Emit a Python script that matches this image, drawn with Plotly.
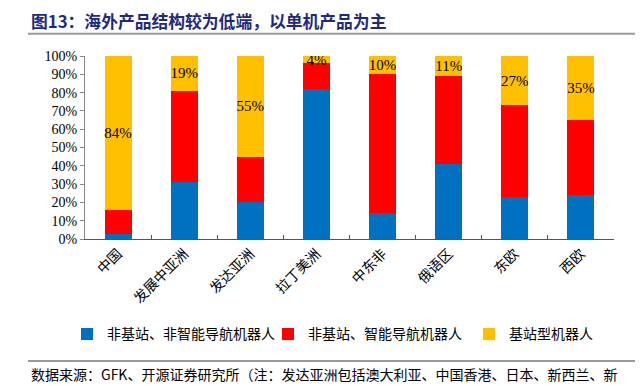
import plotly.graph_objects as go

categories = ["中国", "发展中亚洲", "发达亚洲", "拉丁美洲", "中东非", "俄语区", "东欧", "西欧"]
non_station_non_smart = [3, 31, 20, 82, 14, 41, 23, 24]
non_station_smart = [13, 50, 25, 14, 76, 48, 50, 41]
station_type = [84, 19, 55, 4, 10, 11, 27, 35]

series_names = ["非基站、非智能导航机器人", "非基站、智能导航机器人", "基站型机器人"]
colors = ["#0070C0", "#FF0000", "#FFC000"]
y_ticks = [0, 10, 20, 30, 40, 50, 60, 70, 80, 90, 100]
y_tick_labels = [f"{v}%" for v in y_ticks]

title_text = "图13：海外产品结构较为低端，以单机产品为主"
source_text = "数据来源：GFK、开源证券研究所（注：发达亚洲包括澳大利亚、中国香港、日本、新西兰、新"

serif = "Liberation Serif, Times New Roman, serif"
cjk = "Noto Sans CJK SC"

# the page body has an 8px margin; work in window pixels and shift
OFF = 8
FW, FH = 643 - OFF, 386 - OFF
L, R, T, B = 85 - OFF, 614 - OFF, 55.7 - OFF, 239.3 - OFF
H = B - T
W = R - L


def py(pix):
    return (B - (pix - OFF)) / H


def px(pix):
    return ((pix - OFF) - L) / W


fig = go.Figure()
for name, vals, col in zip(series_names, [non_station_non_smart, non_station_smart, station_type], colors):
    is_top = name == "基站型机器人"
    fig.add_trace(go.Bar(
        x=categories, y=vals, name=name,
        marker=dict(color=col, line=dict(width=0)),
        text=[f"{v}%" for v in vals] if is_top else None,
        textposition="inside" if is_top else "none",
        insidetextanchor="middle",
        textangle=0,
        textfont=dict(family=serif, size=15, color="#000000"),
        hoverinfo="skip",
    ))

fig.update_layout(
    barmode="stack",
    bargap=0.59,
    width=FW, height=FH,
    margin=dict(l=L, r=FW - R, t=T, b=FH - B, autoexpand=False),
    paper_bgcolor="white", plot_bgcolor="white",
    showlegend=True,
    uniformtext=dict(minsize=15, mode="show"),
    legend=dict(
        orientation="h", x=px(67), xanchor="left", y=py(335), yanchor="middle",
        font=dict(family=cjk, size=14, color="#000000"),
        traceorder="normal", itemwidth=30, entrywidth=156,
    ),
    xaxis=dict(
        type="category", tickangle=-45, automargin=False,
        tickfont=dict(family=cjk, size=14, color="#000000"),
        showline=True, linecolor="#555555", linewidth=1,
        ticks="inside", ticklen=4, tickcolor="#555555", tickson="boundaries",
        showgrid=False,
    ),
    yaxis=dict(
        range=[0, 100], tickvals=y_ticks, ticktext=y_tick_labels, automargin=False,
        tickfont=dict(family=serif, size=14, color="#000000"),
        showline=True, linecolor="#888888", linewidth=1,
        ticks="outside", ticklen=4, tickcolor="#888888",
        showgrid=False, zeroline=False,
    ),
    shapes=[
        dict(type="line", xref="paper", yref="paper", x0=px(28), x1=px(643),
             y0=py(33.5), y1=py(33.5),
             line=dict(color="#999999", width=2)),
        dict(type="line", xref="paper", yref="paper", x0=px(28), x1=px(643),
             y0=py(361.7), y1=py(361.7),
             line=dict(color="#999999", width=2)),
    ],
    annotations=[
        dict(text=f"<b>{title_text}</b>", xref="paper", yref="paper",
             x=px(29), y=py(21), xanchor="left", yanchor="middle",
             showarrow=False, font=dict(family=cjk, size=16.8, color="#1F2A7C")),
        dict(text=source_text, xref="paper", yref="paper",
             x=px(29), y=py(375), xanchor="left", yanchor="middle",
             showarrow=False, font=dict(family=cjk, size=14, color="#000000")),
    ],
)

fig.write_html("out.html")
